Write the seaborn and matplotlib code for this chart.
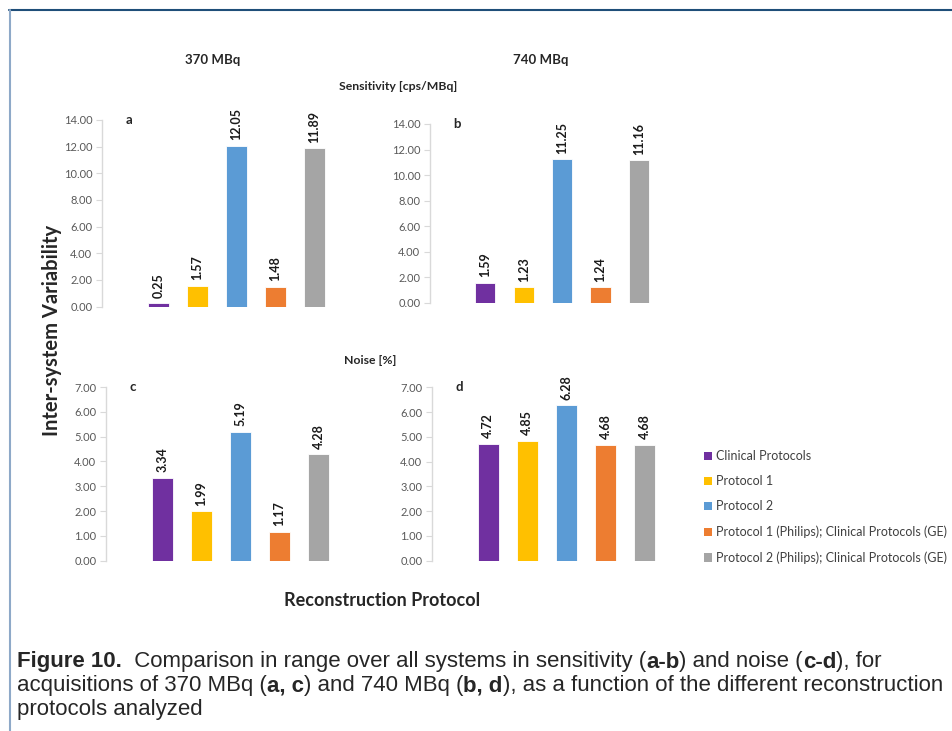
import numpy as np
import pandas as pd
import seaborn as sns
import matplotlib.pyplot as plt
from matplotlib.patches import Patch
from matplotlib.lines import Line2D

# data
protocols = ["Clinical Protocols", "Protocol 1", "Protocol 2",
             "Protocol 1 (Philips); Clinical Protocols (GE)",
             "Protocol 2 (Philips); Clinical Protocols (GE)"]
colors = ["#7030A0", "#FFC000", "#5B9BD5", "#ED7D31", "#A5A5A5"]

sens_370 = [0.25, 1.57, 12.05, 1.48, 11.89]
sens_740 = [1.59, 1.23, 11.25, 1.24, 11.16]
noise_370 = [3.34, 1.99, 5.19, 1.17, 4.28]
noise_740 = [4.72, 4.85, 6.28, 4.68, 4.68]

# caption, as (text, bold) pieces per line
caption = [
    [("Figure 10.", True), ("  Comparison in range over all systems in sensitivity (", False),
     ("a-b", True), (") and noise (", False), ("c-d", True), ("), for", False)],
    [("acquisitions of 370 MBq (", False), ("a, c", True), (") and 740 MBq (", False),
     ("b, d", True), ("), as a function of the different reconstruction", False)],
    [("protocols analyzed", False)],
]

sns.set_style("white")
plt.rcParams['font.family'] = ['Lato', 'DejaVu Sans']

fig = plt.figure(figsize=(9.52, 7.31), dpi=100)
W, H = 952, 731

def px_axes(left, right, bottom, top):
    return fig.add_axes([left / W, 1 - bottom / H, (right - left) / W, (bottom - top) / H])

panels = [
    # values, letter, axes box in px (left, right, y0 px, ytop px), ymax, step
    (sens_370, "a", (102, 338, 306.5, 120), 14, 2),
    (sens_740, "b", (430, 662, 303, 124), 14, 2),
    (noise_370, "c", (106, 342, 560.7, 387), 7, 1),
    (noise_740, "d", (432, 668, 560.7, 387.3), 7, 1),
]

for vals, letter, box, ymax, step in panels:
    ax = px_axes(*box)
    df = pd.DataFrame({"protocol": protocols, "value": vals})
    sns.barplot(data=df, x="protocol", y="value", hue="protocol",
                palette=colors, saturation=1, width=0.53, legend=False, ax=ax,
                edgecolor="white", linewidth=0.6)
    ax.set_xlim(-1.44, 4.6)
    ax.set_ylim(0, ymax)
    ticks = np.arange(0, ymax + 0.01, step)
    ax.set_yticks(ticks)
    ax.set_yticklabels([f"{t:.2f}" for t in ticks])
    ax.set_xticks([])
    ax.set_xlabel("")
    ax.set_ylabel("")
    for s in ["top", "right", "bottom"]:
        ax.spines[s].set_visible(False)
    ax.spines["left"].set_color("#D9D9D9")
    ax.spines["left"].set_linewidth(1.0)
    ax.tick_params(axis="y", left=True, length=4, width=0.8, color="#D9D9D9",
                   labelsize=8, labelcolor="#595959", pad=3)
    ax.patch.set_alpha(0)
    for cont in ax.containers:
        ax.bar_label(cont, fmt="%.2f", rotation=90, padding=4,
                     fontsize=9, fontweight="bold", color="#1a1a1a")
    ax.text(0.1, 1.0, letter, transform=ax.transAxes, fontsize=9.5,
            fontweight="bold", ha="left", va="center")

# headings
fig.text(213 / W, 1 - 60 / H, "370 MBq", ha="center", va="center", fontsize=9.5, fontweight="bold")
fig.text(541 / W, 1 - 60 / H, "740 MBq", ha="center", va="center", fontsize=9.5, fontweight="bold")
fig.text(398 / W, 1 - 87 / H, "Sensitivity [cps/MBq]", ha="center", va="center", fontsize=8.8, fontweight="bold")
fig.text(370 / W, 1 - 360 / H, "Noise [%]", ha="center", va="center", fontsize=8.8, fontweight="bold")
fig.text(52 / W, 1 - 330 / H, "Inter-system Variability", ha="center", va="center",
         rotation=90, fontsize=14.5, fontweight="bold")
fig.text(382 / W, 1 - 600 / H, "Reconstruction Protocol", ha="center", va="center",
         fontsize=13, fontweight="bold")

# legend
handles = [Patch(facecolor=c, edgecolor="none") for c in colors]
leg = fig.legend(handles, protocols, loc="upper left",
                 bbox_to_anchor=(693 / W, 1 - 439 / H), frameon=False,
                 fontsize=9, handlelength=0.65, handleheight=0.65,
                 handletextpad=0.3, labelspacing=1.05)
for t in leg.get_texts():
    t.set_color("#404040")

# caption, drawn piece by piece and scaled to the reference line width
cap_font = ['Liberation Sans Narrow', 'Liberation Sans', 'DejaVu Sans']
renderer = fig.canvas.get_renderer()

def draw_line(pieces, y, size):
    x = 17
    drawn = []
    for txt, bold in pieces:
        t = fig.text(x / W, 1 - y / H, txt, ha="left", va="center", fontsize=size,
                     fontweight="bold" if bold else "normal", family=cap_font)
        x += t.get_window_extent(renderer).width
        drawn.append(t)
    return x, drawn

end, drawn = draw_line(caption[1], 686, 12)
for t in drawn:
    t.remove()
cap_size = 12 * (948 - 17) / (end - 17)
for pieces, y in zip(caption, [662, 686, 710]):
    draw_line(pieces, y, cap_size)

# frame lines
fig.add_artist(Line2D([9 / W, 1], [1 - 10 / H, 1 - 10 / H], color="#1F4E79", lw=1.5))
fig.add_artist(Line2D([10 / W, 10 / W], [0, 1 - 10 / H], color="#8EA9C8", lw=1.5))

fig.savefig("out.png", dpi=100)
